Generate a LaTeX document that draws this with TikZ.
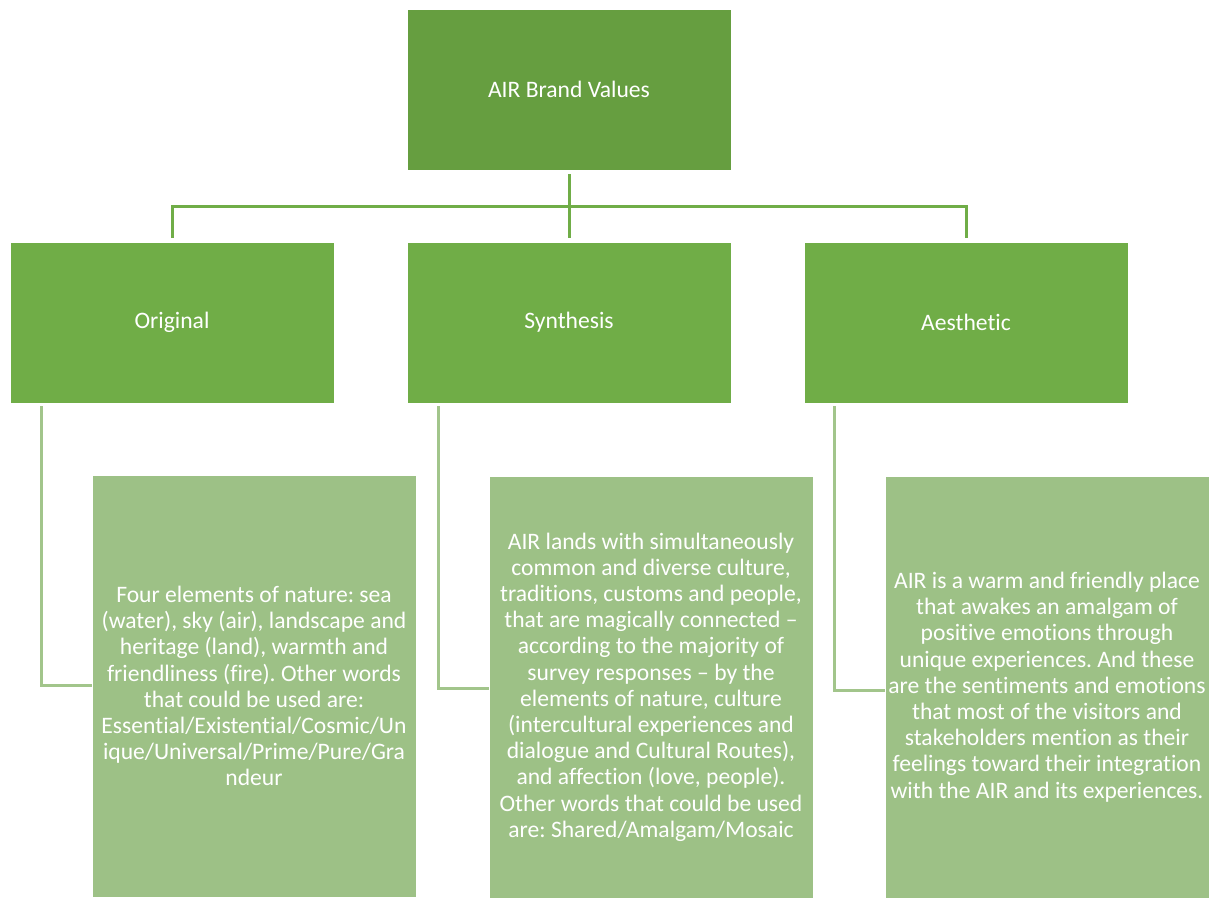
\documentclass[tikz,border=0pt]{standalone}
\usepackage{fontspec}
\setmainfont{Carlito}[Ligatures=NoCommon]
\frenchspacing
\definecolor{topgreen}{HTML}{669E40}
\definecolor{midgreen}{HTML}{70AD47}
\definecolor{lowgreen}{HTML}{9DC186}
\definecolor{lowline}{HTML}{A2C58B}
\begin{document}
\begin{tikzpicture}[x=1pt,y=-1pt,
  box/.style={draw=white, line width=0.8pt, text=white, align=center, inner sep=0pt,
    minimum width=324pt, font=\fontsize{23.6}{26.2}\selectfont},
  topbox/.style={box, fill=topgreen, minimum height=161pt},
  midbox/.style={box, fill=midgreen, minimum height=161pt},
  lowbox/.style={box, fill=lowgreen, minimum height=422pt},
  upline/.style={draw=midgreen, line width=3pt},
  downline/.style={draw=lowline, line width=3pt}]
\useasboundingbox (0,0) rectangle (1212,902);
\node[topbox] (top) at (569,89.5) {AIR Brand Values};
\node[midbox] (orig) at (172,322.5) {Original};
\node[midbox] (syn) at (569,322.5) {Synthesis};
\node[midbox] (aes) at (966,322.5) {Aesthetic};
\node[lowbox] (d1) at (254,686) {Four elements of nature: sea\\(water), sky (air), landscape and\\heritage (land), warmth and\\friendliness (fire). Other words\\that could be used are:\\Essential/Existential/Cosmic/Un\\ique/Universal/Prime/Pure/Gra\\ndeur};
\node[lowbox] (d2) at (651,687) {AIR lands with simultaneously\\common and diverse culture,\\traditions, customs and people,\\that are magically connected --\\according to the majority of\\survey responses -- by the\\elements of nature, culture\\(intercultural experiences and\\dialogue and Cultural Routes),\\and affection (love, people).\\Other words that could be used\\are: Shared/Amalgam/Mosaic};
\node[lowbox] (d3) at (1047,687) {AIR is a warm and friendly place\\that awakes an amalgam of\\positive emotions through\\unique experiences. And these\\are the sentiments and emotions\\that most of the visitors and\\stakeholders mention as their\\feelings toward their integration\\with the AIR and its experiences.};
% top connectors
\coordinate (hub) at (569,206);
\draw[upline] ([yshift=-4pt]top.south) -- ([yshift=4pt]syn.north);
\draw[upline] ([yshift=4pt]orig.north) |- (hub) -| ([yshift=4pt]aes.north);
% lower connectors
\coordinate (b1) at (41,685);
\coordinate (b2) at (438,688);
\coordinate (b3) at (834,690);
\draw[downline] (orig.south -| b1) ++(0,3) -- (b1) -- (b1 -| d1.west);
\draw[downline] (syn.south -| b2) ++(0,3) -- (b2) -- (b2 -| d2.west);
\draw[downline] (aes.south -| b3) ++(0,3) -- (b3) -- (b3 -| d3.west);
\end{tikzpicture}
\end{document}
